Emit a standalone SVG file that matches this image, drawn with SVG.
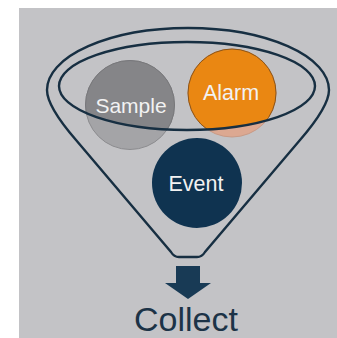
<svg xmlns="http://www.w3.org/2000/svg" width="337" height="338" viewBox="0 0 337 338">
<style>
.rim{fill:none;stroke:#172f42;stroke-width:2.4}
.lbl{font-family:"Liberation Sans",Arial,sans-serif;fill:#f2f2f2;text-anchor:middle}
</style>
<defs>
<clipPath id="inside"><ellipse cx="187" cy="86" rx="128" ry="44"/></clipPath>
</defs>
<rect x="0" y="0" width="337" height="338" fill="#ffffff"/>
<rect x="19" y="8" width="318" height="330" fill="#c3c3c6"/>
<g id="sample">
<circle cx="130" cy="105" r="44.5" fill="#a4a4a7" stroke="#8c8c8f" stroke-width="1"/>
<circle cx="130" cy="105" r="44.5" fill="#858588" stroke="#78787b" stroke-width="1" clip-path="url(#inside)"/>
<text class="lbl" x="131" y="113" font-size="21">Sample</text>
</g>
<g id="alarm">
<circle cx="232" cy="93" r="44" fill="#dca891" stroke="#c89a86" stroke-width="1"/>
<circle cx="232" cy="93" r="44" fill="#ea8712" stroke="#8a5418" stroke-width="1" clip-path="url(#inside)"/>
<text class="lbl" x="231" y="100" font-size="21.5">Alarm</text>
</g>
<g id="event">
<circle cx="197" cy="183" r="45" fill="#0f3350"/>
<text class="lbl" x="196" y="191" font-size="21.5">Event</text>
</g>
<g id="funnel">
<ellipse class="rim" cx="187" cy="86" rx="128" ry="44"/>
<path class="rim" d="M76,140 C63,125 47,105 47,90 A141,62 0 0 1 329,90 C329,105 313,125 300,140 L205,252 Q202,257 197,257 L179,257 Q174,257 171,252 Z"/>
</g>
<g id="connectors">
<polygon points="176,266 200,266 200,283 211,283 188,299 165,283 176,283" fill="#183a55"/>
</g>
<g id="collect">
<text x="186" y="331" font-family="&quot;Liberation Sans&quot;,Arial,sans-serif" font-size="34" fill="#1c3347" text-anchor="middle">Collect</text>
</g>
</svg>
